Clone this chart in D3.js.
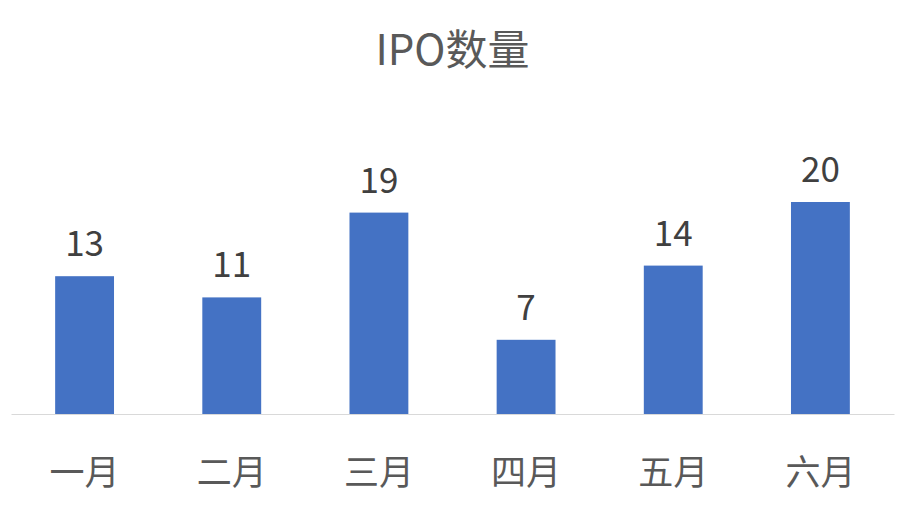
<!DOCTYPE html>
<html>
<head>
<meta charset="utf-8">
<script src="https://cdn.jsdelivr.net/npm/d3@7"></script>
<style>
  body { margin: 0; background: #fff; }
  svg { display: block; }
</style>
</head>
<body>
<script>
const months = ["一月", "二月", "三月", "四月", "五月", "六月"];
const ipo_counts = [13, 11, 19, 7, 14, 20];
const title_text = "IPO数量";

const width = 905, height = 510;
const margin = {left: 11, right: 11, top: 0, bottom: 96};
const font = '"Noto Sans CJK SC", "Noto Sans", sans-serif';
const bar_color = "#4472c4";

const svg = d3.select("body").append("svg")
  .attr("width", width)
  .attr("height", height);

const x = d3.scaleBand()
  .domain(months)
  .range([margin.left, width - margin.right])
  .paddingInner(0.6)
  .paddingOuter(0.3);

// baseline at 414, 10.6px per unit
const y = d3.scaleLinear()
  .domain([0, 20])
  .range([height - margin.bottom, height - margin.bottom - 212]);

// Title
svg.append("text")
  .attr("x", width / 2)
  .attr("y", 65)
  .attr("text-anchor", "middle")
  .style("font-family", font)
  .style("font-size", "42px")
  .attr("fill", "#595959")
  .text(title_text);

// Bars
svg.append("g")
  .selectAll("rect")
  .data(ipo_counts)
  .enter().append("rect")
    .attr("x", (d, i) => x(months[i]))
    .attr("y", d => y(d))
    .attr("width", x.bandwidth())
    .attr("height", d => y(0) - y(d))
    .attr("fill", bar_color);

// Value labels
svg.append("g")
  .selectAll("text")
  .data(ipo_counts)
  .enter().append("text")
    .attr("x", (d, i) => x(months[i]) + x.bandwidth() / 2)
    .attr("y", d => y(d) - 20)
    .attr("text-anchor", "middle")
    .style("font-family", font)
    .style("font-size", "35px")
    .attr("fill", "#404040")
    .text(d => d);

// Category axis
const axis = svg.append("g")
  .attr("transform", `translate(0,${y(0)})`)
  .call(d3.axisBottom(x).tickSize(0).tickPadding(46));

axis.select(".domain")
  .attr("stroke", "#d9d9d9")
  .attr("stroke-width", 1);

axis.selectAll(".tick text")
  .style("font-family", font)
  .style("font-size", "35px")
  .attr("fill", "#595959");
</script>
</body>
</html>
